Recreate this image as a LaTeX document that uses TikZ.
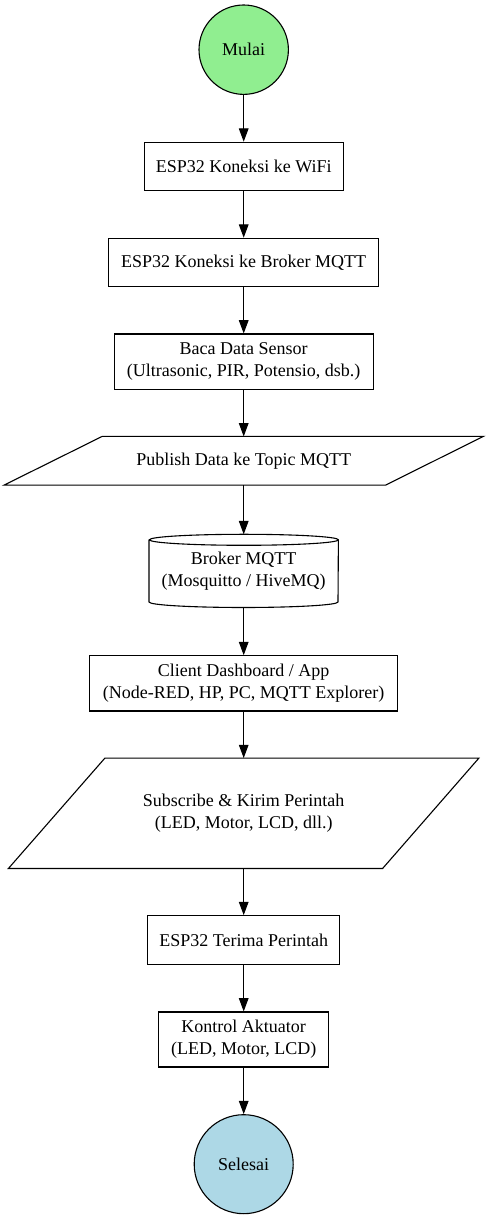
\documentclass[tikz,border=0pt]{standalone}
\usepackage{fontspec}
\setmainfont{Liberation Serif}
\usetikzlibrary{arrows.meta,calc}
\begin{document}
\begin{tikzpicture}[x=1pt,y=1pt,
  every node/.style={font=\fontsize{18}{21.7}\selectfont, align=center, inner sep=0pt},
  procbox/.style={draw, line width=1.1pt, rectangle},
  termcirc/.style={draw, line width=1.1pt, circle},
  plainbox/.style={rectangle},
  shapeline/.style={line width=1.1pt},
  arr/.style={line width=1.1pt, -{Triangle[length=13.3pt,width=9.6pt]}}
]
\fill[white] (0,0) rectangle (488,1219);
\useasboundingbox (0,0) rectangle (488,1219);

\def\cx{243.7}
\node[termcirc, fill={rgb,255:red,144;green,238;blue,144}, minimum size=89.4pt] (start) at (\cx,1169.3) {Mulai};
\node[procbox, minimum width=198.7pt, minimum height=48.4pt] (wifi) at (\cx,1052.5) {ESP32 Koneksi ke WiFi};
\node[procbox, minimum width=269.6pt, minimum height=48.4pt] (broker) at (\cx,956.5) {ESP32 Koneksi ke Broker MQTT};
\node[procbox, minimum width=258.7pt, minimum height=55.3pt] (baca) at (\cx,857.3) {Baca Data Sensor\\(Ultrasonic, PIR, Potensio, dsb.)};
\node[plainbox, minimum width=200pt, minimum height=48.3pt] (pub) at (\cx,758.2) {Publish Data ke Topic MQTT};
\node[plainbox, minimum width=189pt, minimum height=72.8pt] (cyl) at (\cx,648.1) {Broker MQTT\\(Mosquitto / HiveMQ)};
\node[procbox, minimum width=308.4pt, minimum height=55.3pt] (client) at (\cx,535.6) {Client Dashboard / App\\(Node-RED, HP, PC, MQTT Explorer)};
\node[plainbox, minimum width=200pt, minimum height=110pt] (sub) at (\cx,405.7) {Subscribe \& Kirim Perintah\\(LED, Motor, LCD, dll.)};
\node[procbox, minimum width=192pt, minimum height=48.6pt] (terima) at (\cx,279) {ESP32 Terima Perintah};
\node[procbox, minimum width=170pt, minimum height=55pt] (kontrol) at (\cx,179.5) {Kontrol Aktuator\\(LED, Motor, LCD)};
\node[termcirc, fill={rgb,255:red,173;green,216;blue,230}, minimum size=99pt] (end) at (\cx,54.8) {Selesai};

% parallelograms
\draw[shapeline] ($(pub.north)+(-141.6,0)$) -- ($(pub.north)+(239.6,0)$) -- ($(pub.south)+(141.8,0)$) -- ($(pub.south)+(-239.7,0)$) -- cycle;
\draw[shapeline] ($(sub.north)+(-138.8,0)$) -- ($(sub.north)+(235.2,0)$) -- ($(sub.south)+(138.9,0)$) -- ($(sub.south)+(-235.3,0)$) -- cycle;

% cylinder
\draw[shapeline] ($(cyl.north west)+(0,-5.5)$) -- ($(cyl.south west)+(0,5.5)$)
  arc[start angle=180,end angle=360,x radius=94.5pt,y radius=5.5pt]
  -- ($(cyl.north east)+(0,-5.5)$)
  arc[start angle=0,end angle=180,x radius=94.5pt,y radius=5.5pt]
  arc[start angle=180,end angle=360,x radius=94.5pt,y radius=5.5pt];

% connectors
\draw[arr] (start.south) -- (wifi.north);
\draw[arr] (wifi.south) -- (broker.north);
\draw[arr] (broker.south) -- (baca.north);
\draw[arr] (baca.south) -- (pub.north);
\draw[arr] (pub.south) -- (cyl.north);
\draw[arr] (cyl.south) -- (client.north);
\draw[arr] (client.south) -- (sub.north);
\draw[arr] (sub.south) -- (terima.north);
\draw[arr] (terima.south) -- (kontrol.north);
\draw[arr] (kontrol.south) -- (end.north);
\end{tikzpicture}
\end{document}
